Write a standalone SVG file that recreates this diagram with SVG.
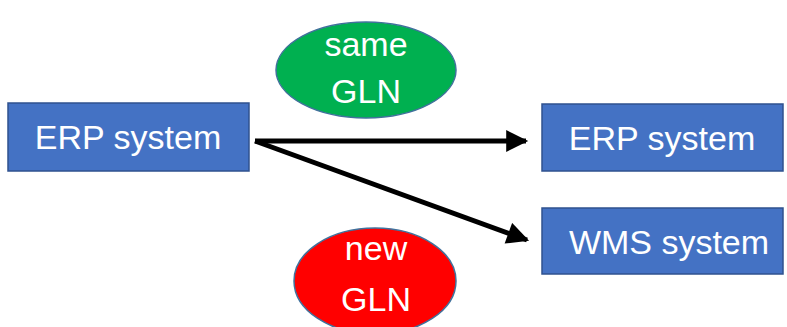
<svg xmlns="http://www.w3.org/2000/svg" width="787" height="327" viewBox="0 0 787 327">
<style>
.box{fill:#4472C4;stroke:#2F528F;stroke-width:1.5}
.t{font-family:"Liberation Sans",Arial,sans-serif;font-size:34px;fill:#fff;text-anchor:middle}
.conn{stroke:#000;stroke-width:5;fill:none}
</style>
<defs>
<marker id="ah" viewBox="0 0 10 10" refX="9" refY="5" markerWidth="4.6" markerHeight="4.4" orient="auto" markerUnits="strokeWidth">
<path d="M0,0 L10,5 L0,10 z" fill="#000"/>
</marker>
</defs>
<rect width="787" height="327" fill="#fff"/>
<g id="connectors">
<line class="conn" x1="255" y1="141" x2="526" y2="141" marker-end="url(#ah)"/>
<line class="conn" x1="255" y1="141" x2="527" y2="240" marker-end="url(#ah)"/>
</g>
<g id="erp-left">
<rect class="box" x="8" y="103" width="241" height="68"/>
<text class="t" x="128" y="149">ERP system</text>
</g>
<g id="same-gln">
<ellipse cx="366" cy="70" rx="90" ry="48" fill="#00B050" stroke="#41719C" stroke-width="1.5"/>
<text class="t" x="366" y="56">same</text>
<text class="t" x="366" y="103">GLN</text>
</g>
<g id="new-gln">
<ellipse cx="375" cy="281" rx="81" ry="53" fill="#FF0000" stroke="#41719C" stroke-width="1.5"/>
<text class="t" x="376" y="260">new</text>
<text class="t" x="376" y="311">GLN</text>
</g>
<g id="erp-right">
<rect class="box" x="542" y="104" width="241" height="67"/>
<text class="t" x="662" y="150">ERP system</text>
</g>
<g id="wms">
<rect class="box" x="542" y="208" width="241" height="66"/>
<text class="t" x="669" y="254">WMS system</text>
</g>
</svg>
